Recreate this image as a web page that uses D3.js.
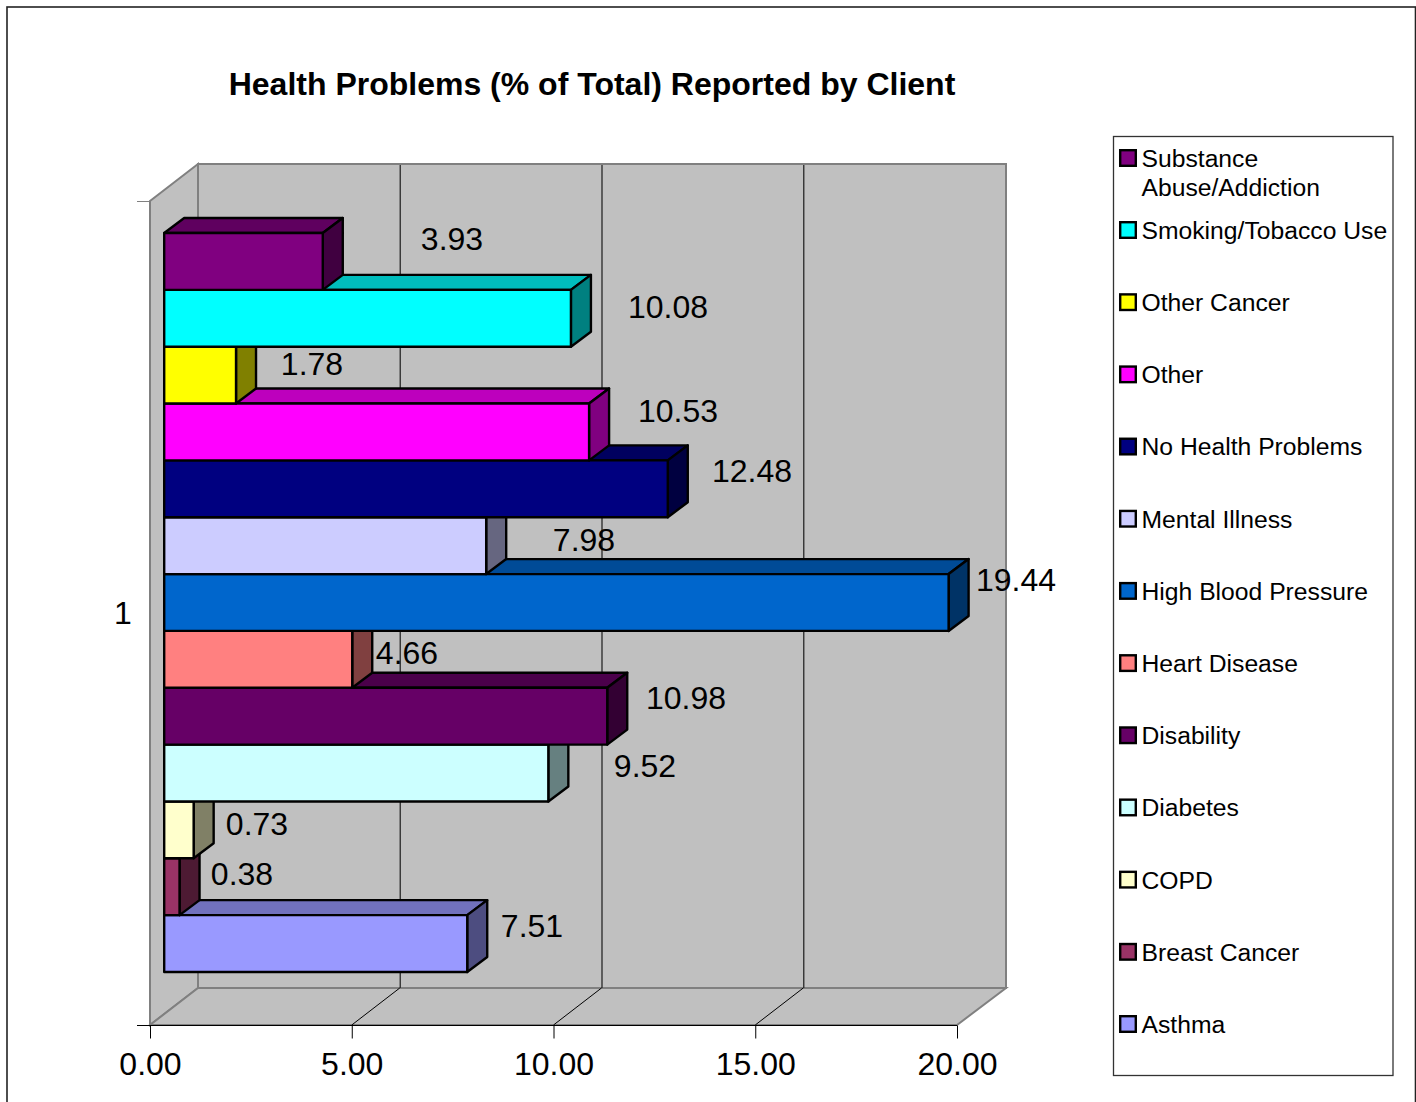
<!DOCTYPE html>
<html><head><meta charset="utf-8">
<script src="https://cdn.jsdelivr.net/npm/d3@7/dist/d3.min.js"></script>
<style>html,body{margin:0;padding:0;background:#fff}svg{display:block}text{font-family:"Liberation Sans",Arial,sans-serif;fill:#000}</style>
</head><body><div id="c"></div>
<script>
const title = "Health Problems (% of Total) Reported by Client";
const categoryLabels = ["1"];
const seriesNames = ["Substance Abuse/Addiction","Smoking/Tobacco Use","Other Cancer","Other","No Health Problems","Mental Illness","High Blood Pressure","Heart Disease","Disability","Diabetes","COPD","Breast Cancer","Asthma"];
const seriesValues = [3.93,10.08,1.78,10.53,12.48,7.98,19.44,4.66,10.98,9.52,0.73,0.38,7.51];
const seriesColors = ["#800080","#00FFFF","#FFFF00","#FF00FF","#000080","#CCCCFF","#0066CC","#FF8080","#660066","#CCFFFF","#FFFFCC","#993366","#9999FF"];
const xTicks = [0,5,10,15,20];
// Hand-placed data label centres from the original chart (not data)
const labelCentres = [[452,238],[668,306],[312,363],[678,410],[752,470],[584,539],[1016,579],[407,652],[686,697],[645,765],[257,823],[242,873],[532,925]];

const W=1416,H=1102;
const svg=d3.select("#c").append("svg").attr("width",W).attr("height",H);
const L=150,R=957,T=201,B=1025,DX=48,DY=-37;
const x=d3.scaleLinear().domain([0,20]).range([L,R]);
const barOffX=14.2, barDX=20, barDY=-15;
const y=d3.scaleBand().domain(seriesNames).range([233,972]).padding(0);
const GREY="#808080", WALL="#C0C0C0";
const poly=(pts)=>pts.map(p=>p.join(",")).join(" ");

// outer frame
svg.append("rect").attr("x",7).attr("y",7).attr("width",1408.5).attr("height",1200).attr("fill","#fff").attr("stroke","#222").attr("stroke-width",1.6);

// title
svg.append("text").attr("x",592).attr("y",94.5).attr("text-anchor","middle").attr("font-size",32).attr("font-weight","bold").text(title);

// back wall
svg.append("polygon").attr("points",poly([[L+DX,T+DY],[R+DX+1,T+DY],[R+DX+1,B+DY],[L+DX,B+DY]])).attr("fill",WALL).attr("stroke",GREY).attr("stroke-width",2);
// left wall
svg.append("polygon").attr("points",poly([[L,T],[L+DX,T+DY],[L+DX,B+DY],[L,B]])).attr("fill",WALL).attr("stroke",GREY).attr("stroke-width",2);
// floor
svg.append("polygon").attr("points",poly([[L,B],[R,B],[R+DX+1,B+DY],[L+DX,B+DY]])).attr("fill",WALL).attr("stroke",GREY).attr("stroke-width",2);

// gridlines + floor diagonals
const inner=xTicks.slice(1,-1);
svg.selectAll(".g").data(inner).enter().append("line").attr("x1",d=>x(d)+DX+.5).attr("x2",d=>x(d)+DX+.5).attr("y1",T+DY+1).attr("y2",B+DY).attr("stroke","#333").attr("stroke-width",1.4);
svg.selectAll(".d").data(inner).enter().append("line").attr("x1",d=>x(d)).attr("x2",d=>x(d)+DX).attr("y1",B).attr("y2",B+DY).attr("stroke","#000").attr("stroke-width",1);

// bars
const shade=(c,k)=>{const r=d3.rgb(c);return d3.rgb(r.r*k,r.g*k,r.b*k).formatHex();};
const order=seriesNames.map((n,i)=>i).reverse();
const bars=svg.selectAll(".bar").data(order).enter().append("g");
const x0=L+barOffX, sc=d=>x(seriesValues[d])+barOffX;
bars.append("polygon").attr("points",i=>{const a=y(seriesNames[i]),e=sc(i);return poly([[x0,a],[x0+barDX,a+barDY],[e+barDX,a+barDY],[e,a]]);}).attr("fill",i=>shade(seriesColors[i],.74));
bars.append("polygon").attr("points",i=>{const a=y(seriesNames[i]),e=sc(i),h=y.bandwidth();return poly([[e,a],[e+barDX,a+barDY],[e+barDX,a+h+barDY],[e,a+h]]);}).attr("fill",i=>shade(seriesColors[i],.5));
bars.append("rect").attr("x",x0).attr("y",i=>y(seriesNames[i])).attr("width",i=>sc(i)-x0).attr("height",y.bandwidth()).attr("fill",i=>seriesColors[i]);
bars.selectAll("polygon,rect").attr("stroke","#000").attr("stroke-width",2.4).attr("stroke-linejoin","round");

// data labels
svg.selectAll(".lab").data(seriesValues).enter().append("text").attr("x",(d,i)=>labelCentres[i][0]).attr("y",(d,i)=>labelCentres[i][1]).attr("dy","0.36em").attr("text-anchor","middle").attr("font-size",32).text(d=>d.toFixed(2));

// axes
const gx=svg.append("g").attr("transform",`translate(0,${B+.5})`).call(d3.axisBottom(x).tickValues(xTicks).tickFormat(d3.format(".2f")).tickSize(13).tickPadding(14));
gx.select(".domain").attr("stroke","#000").attr("d",`M${L-13},0H${R}`);
gx.selectAll(".tick line").attr("stroke","#000");
gx.selectAll("text").attr("font-size",32).attr("font-family",'"Liberation Sans"').attr("fill","#000");
svg.append("line").attr("x1",L-13).attr("x2",L).attr("y1",T+.5).attr("y2",T+.5).attr("stroke",GREY).attr("stroke-width",1);
svg.selectAll(".cat").data(categoryLabels).enter().append("text").attr("x",123).attr("y",612).attr("dy","0.36em").attr("text-anchor","middle").attr("font-size",32).text(d=>d);

// legend
svg.append("rect").attr("x",1113.5).attr("y",136.5).attr("width",279.5).attr("height",939).attr("fill","#fff").attr("stroke","#333").attr("stroke-width",1.3);
const ly=d3.scalePoint().domain(seriesNames.slice(1)).range([230,1024]);
const legendY=n=>n===seriesNames[0]?158:ly(n);
const lg=svg.selectAll(".lg").data(seriesNames).enter().append("g");
lg.append("rect").attr("x",1120.2).attr("y",n=>legendY(n)-7.8).attr("width",15.6).attr("height",15.6).attr("fill",(n,i)=>seriesColors[i]).attr("stroke","#000").attr("stroke-width",2.4);
lg.each(function(n,i){
  const g=d3.select(this),lines=i===0?["Substance","Abuse/Addiction"]:[n];
  lines.forEach((t,k)=>g.append("text").attr("x",1141.5).attr("y",legendY(n)+k*29).attr("dy","0.36em").attr("font-size",24.7).text(t));
});
</script></body></html>
